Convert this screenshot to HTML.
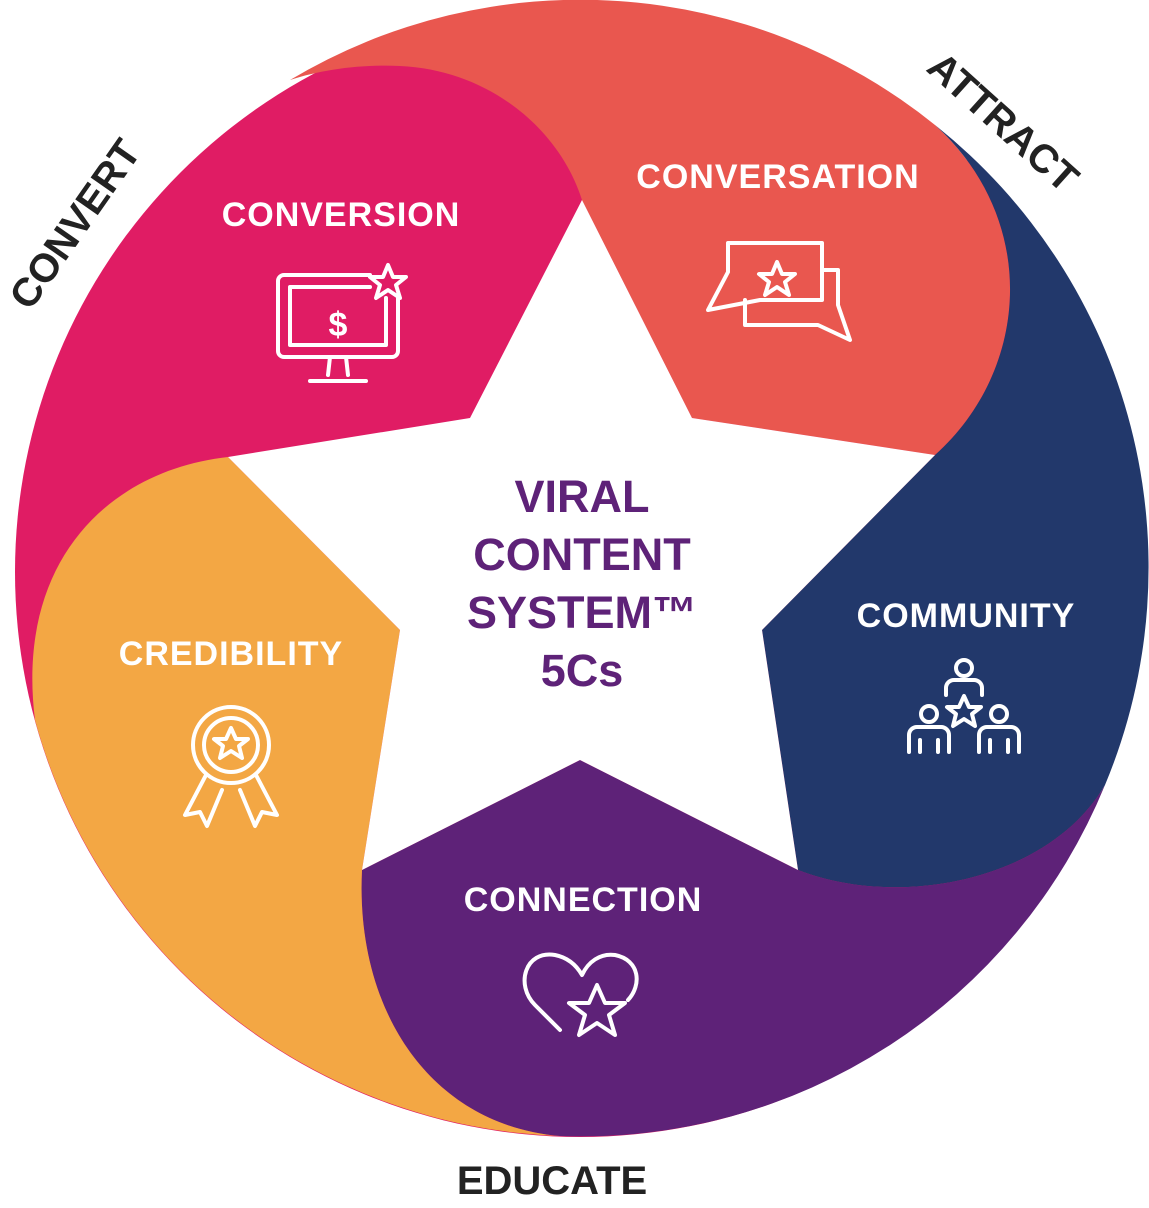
<!DOCTYPE html>
<html><head><meta charset="utf-8"><style>
html,body{margin:0;padding:0;background:#fff;}
svg{display:block;}
text{font-family:"Liberation Sans",sans-serif;font-weight:bold;}
</style></head><body>
<svg width="1149" height="1208" viewBox="0 0 1149 1208" xmlns="http://www.w3.org/2000/svg">
<circle cx="580" cy="572" r="565" fill="#e01c64"/>
<path d="M582,200 C560,130 490,70 400,66 C360,64 320,70 290,80 A565,565 0 0 1 935,125 C1040,220 1030,370 935,455 L692,418 Z" fill="#e9574f"/>
<path d="M935,125 A565,565 0 0 1 1105,785 C1050,880 900,910 798,870 L762,630 L935,455 C1030,370 1040,220 935,125 Z" fill="#22386b"/>
<path d="M1105,785 A565,565 0 0 1 560,1136 C430,1125 355,1010 362,870 L580,760 L798,870 C900,910 1050,880 1105,785 Z" fill="#5e2278"/>
<path d="M560,1136 A565,565 0 0 1 35,720 C15,560 110,470 228,457 L400,630 L362,870 C355,1010 430,1125 560,1136 Z" fill="#f3a744"/>
<polygon points="582,200 692,418 935,455 762,630 798,870 580,760 362,870 400,630 228,457 470,418" fill="#fff"/>

<g fill="#5e2278" font-size="45" text-anchor="middle">
<text x="582" y="512">VIRAL</text>
<text x="582" y="570">CONTENT</text>
<text x="582" y="628">SYSTEM™</text>
<text x="582" y="686">5Cs</text>
</g>

<g fill="#fff" font-size="34" text-anchor="middle" letter-spacing="1">
<text x="341" y="226">CONVERSION</text>
<text x="778" y="188">CONVERSATION</text>
<text x="966" y="627">COMMUNITY</text>
<text x="583" y="911">CONNECTION</text>
<text x="231" y="665">CREDIBILITY</text>
</g>

<g fill="#222" font-size="40">
<text x="552" y="1194" text-anchor="middle">EDUCATE</text>
<text transform="translate(30,312) rotate(-55)">CONVERT</text>
<text transform="translate(925,70) rotate(42)">ATTRACT</text>
</g>

<text x="338" y="336" fill="#fff" font-size="34" font-weight="normal" text-anchor="middle">$</text>

<g fill="none" stroke="#fff" stroke-width="4" stroke-linejoin="round" stroke-linecap="round">
<path d="M370,275 H284 A6,6 0 0 0 278,281 V351 A6,6 0 0 0 284,357 H392 A6,6 0 0 0 398,351 V298"/>
<path d="M370,287 H290 V345 H386 V298"/>
<path d="M330,357 L328,375 M346,357 L348,375 M310,381 H366"/>
<polygon points="388,265 393,277 406,277 396,285 400,298 388,290 376,298 380,285 370,277 383,277"/>
<path d="M728,243 H822 V300 H760 L708,310 L728,272 Z"/>
<path d="M822,270 H838 V305 L850,340 L818,325 H745 V300"/>
<polygon points="777,262 782,274 795,274 785,282 789,295 777,287 765,295 769,282 759,274 772,274"/>
<circle cx="964" cy="668" r="8"/>
<path d="M946,695 V688 A8,8 0 0 1 954,680 H974 A8,8 0 0 1 982,688 V695"/>
<circle cx="929" cy="714" r="8"/><circle cx="999" cy="714" r="8"/>
<path d="M909,752 V735 A8,8 0 0 1 917,727 H941 A8,8 0 0 1 949,735 V752 M920,740 V752 M938,740 V752"/>
<path d="M979,752 V735 A8,8 0 0 1 987,727 H1011 A8,8 0 0 1 1019,735 V752 M990,740 V752 M1008,740 V752"/>
<polygon points="964,696 969,707 981,707 972,714 975,726 964,719 953,726 956,714 947,707 959,707"/>
<path d="M560,1030 L535,1005 C515,985 525,950 555,955 C570,958 578,968 582,975 C588,962 600,953 615,955 C640,960 642,985 628,1000"/>
<polygon points="597,985 605,1003 625,1003 609,1015 615,1035 597,1023 579,1035 585,1015 569,1003 589,1003"/>
<circle cx="231" cy="745" r="38"/>
<circle cx="231" cy="745" r="27"/>
<polygon points="231,728 236,739 248,739 239,746 242,758 231,751 220,758 223,746 214,739 226,739"/>
<path d="M206,775 L185,815 L200,812 L207,826 L222,790 M256,775 L277,815 L262,812 L255,826 L240,790"/>
</g>
</svg>
</body></html>
